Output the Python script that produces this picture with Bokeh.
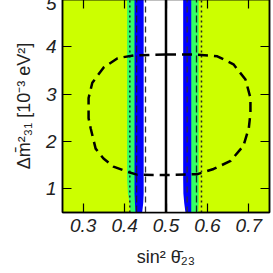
from bokeh.plotting import figure
from bokeh.models import LinearAxis, Range1d, FixedTicker
from bokeh.embed import file_html
from bokeh.resources import INLINE

# allowed-region boundaries (x = sin^2 theta23) as a function of dm^2 (y)
band_y = [0.5, 0.7, 0.9, 1.2, 5.0]
green_left = [0.414, 0.412, 0.408, 0.406, 0.406]
blue_left = [0.426, 0.425, 0.424, 0.424, 0.424]
white_left = [0.4425, 0.445, 0.446, 0.446, 0.446]
white_right = [0.547, 0.544, 0.542, 0.5415, 0.5415]
blue_right = [0.561, 0.561, 0.561, 0.561, 0.561]
green_right = [0.578, 0.579, 0.579, 0.579, 0.579]

# best fit and other contour lines
best_fit_x = 0.5
dashed_x = [0.4505, 0.551]
longdash_x = [0.429, 0.5737]
dotted_x = [0.4126, 0.5857]
line_y = [0.5, 5.0]

# dashed closed contour
contour_x = [0.50, 0.566, 0.624, 0.663, 0.692, 0.704, 0.704, 0.700, 0.687, 0.656, 0.615, 0.576, 0.50,
             0.43, 0.407, 0.373, 0.349, 0.330, 0.318, 0.313, 0.313, 0.322, 0.349, 0.383, 0.422, 0.50]
contour_y = [3.84, 3.84, 3.80, 3.63, 3.31, 2.92, 2.60, 2.28, 1.91, 1.59, 1.42, 1.31, 1.29,
             1.30, 1.36, 1.47, 1.64, 1.85, 2.28, 2.49, 2.92, 3.24, 3.56, 3.76, 3.82, 3.84]

x_ticks = [0.3, 0.4, 0.5, 0.6, 0.7]
y_ticks = [1, 2, 3, 4, 5]

YELLOW = "#ccff00"
GREEN = "#33ff66"
BLUE = "#0000ff"

p = figure(width=273, height=273, output_backend="svg", toolbar_location=None,
           x_range=Range1d(0.25, 0.75), y_range=Range1d(0.5, 5.0),
           min_border_left=62, min_border_right=4, min_border_top=3, min_border_bottom=56,
           x_axis_label="sin² θ̄₂₃", y_axis_label="Δm̄²₃₁ [10⁻³ eV²]")
p.styles = {"margin": "-4px -16px -16px 0px"}
p.background_fill_color = YELLOW
p.border_fill_color = "white"
p.outline_line_color = "black"
p.outline_line_width = 1.5
p.grid.visible = False

p.harea(x1=green_left, x2=green_right, y=band_y, fill_color=GREEN)
p.harea(x1=blue_left, x2=blue_right, y=band_y, fill_color=BLUE)
p.harea(x1=white_left, x2=white_right, y=band_y, fill_color="white")

for xv in dotted_x:
    p.line([xv, xv], line_y, line_color="#222222", line_width=1.5, line_dash="2 3")
for xv in longdash_x:
    p.line([xv, xv], line_y, line_color="#222222", line_width=1.3, line_dash="7 3")
for xv in dashed_x:
    p.line([xv, xv], line_y, line_color="#333333", line_width=1.3, line_dash="6 4")
p.line([best_fit_x, best_fit_x], line_y, line_color="black", line_width=2.5)

p.line(contour_x, contour_y, line_color="black", line_width=2.5, line_dash="10 6")


def style_axis(ax, ticks, labels=True):
    ax.ticker = FixedTicker(ticks=ticks, num_minor_ticks=5)
    ax.major_tick_in = 9
    ax.major_tick_out = 0
    ax.minor_tick_in = 5
    ax.minor_tick_out = 0
    ax.major_tick_line_width = 1.2
    ax.minor_tick_line_width = 1.2
    ax.axis_line_width = 1.5
    if labels:
        ax.major_label_text_font = "Liberation Sans"
        ax.major_label_text_font_style = "italic"
        ax.major_label_text_font_size = "19px"
        ax.major_label_text_color = "#222222"
        ax.axis_label_text_font = "Liberation Sans"
        ax.axis_label_text_font_style = "normal"
        ax.axis_label_text_font_size = "18px"
        ax.axis_label_text_color = "#222222"
    else:
        ax.major_label_overrides = {t: "" for t in ticks}
        ax.major_label_text_font_size = "1px"
        ax.major_label_standoff = 0


style_axis(p.xaxis[0], x_ticks)
style_axis(p.yaxis[0], y_ticks)
p.xaxis[0].major_label_standoff = 6
p.xaxis[0].axis_label_standoff = 12
p.yaxis[0].major_label_standoff = 6
p.yaxis[0].axis_label_standoff = 9

top = LinearAxis()
style_axis(top, x_ticks, labels=False)
p.add_layout(top, "above")
right = LinearAxis()
style_axis(right, y_ticks, labels=False)
p.add_layout(right, "right")

open("out.html", "w").write(file_html(p, INLINE))
